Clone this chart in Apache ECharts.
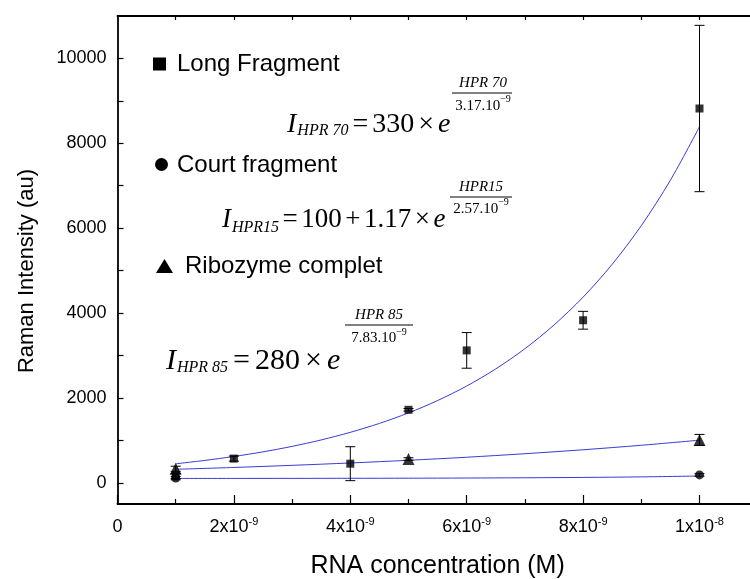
<!DOCTYPE html>
<html>
<head>
<meta charset="utf-8">
<script src="https://cdn.jsdelivr.net/npm/echarts@6/dist/echarts.min.js"></script>
<style>html,body{margin:0;padding:0;background:#fff}#c{width:750px;height:579px}</style>
</head>
<body>
<div id="c"></div>
<script>
// ---- data ----
const xLong = [1e-9, 2e-9, 4e-9, 5e-9, 6e-9, 8e-9, 1e-8];
const yLong = [160, 570, 450, 1720, 3120, 3830, 8820];
const errLong = [60, 60, 400, 30, 420, 210, 1960];

const xCourt = [1e-9, 1e-8];
const yCourt = [110, 185];
const errCourt = [40, 30];

const xRibo = [1e-9, 5e-9, 1e-8];
const yRibo = [330, 560, 1010];
const errRibo = [60, 30, 130];

// fitted curves as drawn in the picture
const fitXLong = [1e-9,1.5e-9,2e-9,2.5e-9,3e-9,3.5e-9,4e-9,4.5e-9,5e-9,5.5e-9,6e-9,6.5e-9,7e-9,7.5e-9,8e-9,8.5e-9,9e-9,9.5e-9,1e-8];
const fitLong = [447,527,620,729,858,1010,1189,1399,1646,1938,2280,2684,3159,3718,4375,5149,6060,7130,8390];
const fitXShort = [1e-9,2e-9,3e-9,4e-9,5e-9,6e-9,7e-9,8e-9,9e-9,1e-8];
const fitRibo = [318,361,411,467,530,602,685,778,884,1004];
const fitCourt = [102,103,104,106,108,112,118,126,139,160];

// axis ticks / labels
const xLabelValues = [0, 2e-9, 4e-9, 6e-9, 8e-9, 1e-8];
const xMinorValues = [1e-9, 3e-9, 5e-9, 7e-9, 9e-9];
const xTopValues = [1e-9,2e-9,3e-9,4e-9,5e-9,6e-9,7e-9,8e-9,9e-9,1e-8];
const yLabelValues = [0, 2000, 4000, 6000, 8000, 10000];
const yTickValues = [0,1000,2000,3000,4000,5000,6000,7000,8000,9000,10000];

const seriesNames = ['Long Fragment', 'Court fragment', 'Ribozyme complet'];

// equation texts
const eq1Main = ['I', 'HPR 70', '=', '330', '×', 'e'];
const eq1Exp = ['HPR 70', '3.17.10', '−9'];
const eq2Main = ['I', 'HPR15', '=', '100', '+', '1.17', '×', 'e'];
const eq2Exp = ['HPR15', '2.57.10', '−9'];
const eq3Main = ['I', 'HPR 85', '=', '280', '×', 'e'];
const eq3Exp = ['HPR 85', '7.83.10', '−9'];

// ---- build ----
const SANS = 'Liberation Sans, Arial, sans-serif';
const SERIF = 'Liberation Serif, Times New Roman, serif';
const BLUE = '#3a3ad8';

function pairs(xs, ys) { return xs.map((x, i) => [x, ys[i]]); }
function errData(xs, ys, es) { return xs.map((x, i) => [x, ys[i] - es[i], ys[i] + es[i]]); }

function errSeries(xs, ys, es) {
  return {
    type: 'custom', z: 3, silent: true,
    encode: { x: 0, y: [1, 2] },
    data: errData(xs, ys, es),
    renderItem: function (params, api) {
      const x = api.value(0), lo = api.value(1), hi = api.value(2);
      const a = api.coord([x, lo]), b = api.coord([x, hi]);
      const w = 5, st = { stroke: '#000', lineWidth: 1 };
      return { type: 'group', children: [
        { type: 'line', shape: { x1: a[0], y1: a[1], x2: b[0], y2: b[1] }, style: st },
        { type: 'line', shape: { x1: a[0] - w, y1: a[1], x2: a[0] + w, y2: a[1] }, style: st },
        { type: 'line', shape: { x1: b[0] - w, y1: b[1], x2: b[0] + w, y2: b[1] }, style: st }
      ]};
    }
  };
}

function xFmt(v) {
  const n = Math.round(v / 1e-9);
  if (n === 0) return '{b|0}';
  if (n === 10) return '{b|1x10}{s|-8}';
  if (n > 10) return '';
  return '{b|' + n + 'x10}{s|-9}';
}

function T(x, y, text, size, italic, opt) {
  opt = opt || {};
  return {
    type: 'text', x: x, y: y, z: 10, silent: true,
    style: {
      text: text, fontSize: size, fontFamily: opt.font || SERIF,
      fontStyle: italic ? 'italic' : 'normal', fill: '#000',
      align: opt.align || 'left', verticalAlign: 'middle'
    }
  };
}
function L(x1, x2, y) {
  return { type: 'line', z: 10, silent: true, shape: { x1: x1, y1: y, x2: x2, y2: y }, style: { stroke: '#000', lineWidth: 1 } };
}

const mctx = document.createElement('canvas').getContext('2d');
function measure(t, size, italic) {
  mctx.font = (italic ? 'italic ' : '') + size + 'px ' + SERIF;
  return mctx.measureText(t).width;
}
// lay out main line of an equation: I, subscript, then operators/numbers, then italic e
function eqMain(x0, yc, parts, F, S, subDy, gap) {
  const out = [];
  let x = x0;
  parts.forEach(function (t, i) {
    const isSub = i === 1;
    const italic = (i === 0 || i === parts.length - 1 || isSub);
    const size = isSub ? S : F;
    out.push(T(x, isSub ? yc + subDy : yc, t, size, italic));
    x += measure(t, size, italic) + (i === 0 ? 1 : gap);
  });
  return out;
}
function eqExp(cx, x1, x2, lineY, parts, size, numY, denY, supY) {
  const den = measure(parts[1], size, false);
  const sup = measure(parts[2], 10, false);
  const dx = cx - (den + sup) / 2;
  return [
    T(cx, numY, parts[0], size, true, { align: 'center' }),
    L(x1, x2, lineY),
    T(dx, denY, parts[1], size, false),
    T(dx + den, supY, parts[2], 10, false)
  ];
}

let graphics = [
  { type: 'text', x: 27, y: 271, rotation: Math.PI / 2, silent: true,
    style: { text: 'Raman Intensity (au)', fontSize: 22, fontFamily: SANS, fill: '#000', align: 'center', verticalAlign: 'middle' } },
  { type: 'rect', shape: { x: 153, y: 57.5, width: 13, height: 13 }, style: { fill: '#000' }, z: 10 },
  T(177, 64.5, seriesNames[0], 24, false, { font: SANS }),
  { type: 'circle', shape: { cx: 161.5, cy: 164.5, r: 6.5 }, style: { fill: '#000' }, z: 10 },
  T(177, 165, seriesNames[1], 24, false, { font: SANS }),
  { type: 'polygon', shape: { points: [[156, 273], [173, 273], [164.5, 259]] }, style: { fill: '#000' }, z: 10 },
  T(185, 266, seriesNames[2], 24, false, { font: SANS })
];
graphics = graphics
  .concat(eqMain(287, 124.5, eq1Main, 28, 16, 6, 4))
  .concat(eqExp(483, 452, 512, 93, eq1Exp, 15, 83.5, 106, 99.5))
  .concat(eqMain(222, 220, eq2Main, 27, 16, 8, 3.5))
  .concat(eqExp(481, 450, 512, 197, eq2Exp, 15, 187, 209, 202.5))
  .concat(eqMain(166, 361, eq3Main, 30, 16, 7, 5))
  .concat(eqExp(379, 345, 413, 325, eq3Exp, 15, 315, 338, 332.5));

const axisLineStyle = { color: '#000', width: 1.8 };
const tickStyle = { color: '#000', width: 1.2 };

const option = {
  animation: false,
  backgroundColor: '#fff',
  grid: { left: 117.5, right: -7.7, top: 16, bottom: 75, outerBoundsMode: 'none', containLabel: false },
  xAxis: [
    { type: 'value', min: 0, max: 1.1e-8, position: 'bottom',
      axisLine: { show: true, onZero: false, lineStyle: axisLineStyle },
      axisTick: { show: true, inside: true, length: 9, customValues: xLabelValues, lineStyle: tickStyle },
      splitLine: { show: false },
      axisLabel: { customValues: xLabelValues, margin: 12, formatter: xFmt, color: '#000',
        rich: {
          b: { fontSize: 18, fontFamily: SANS, color: '#000', lineHeight: 22 },
          s: { fontSize: 11, fontFamily: SANS, color: '#000', lineHeight: 12, verticalAlign: 'top' }
        } },
      name: 'RNA concentration (M)', nameLocation: 'middle', nameGap: 50,
      nameTextStyle: { fontSize: 25, fontFamily: SANS, color: '#000' } },
    { type: 'value', min: 0, max: 1.1e-8, position: 'top',
      axisLine: { show: true, onZero: false, lineStyle: axisLineStyle },
      axisTick: { show: true, inside: true, length: 4, customValues: xTopValues, lineStyle: tickStyle },
      axisLabel: { show: false }, splitLine: { show: false } },
    { type: 'value', min: 0, max: 1.1e-8, position: 'bottom',
      axisLine: { show: false, onZero: false },
      axisTick: { show: true, inside: true, length: 5, customValues: xMinorValues, lineStyle: tickStyle },
      axisLabel: { show: false }, splitLine: { show: false } }
  ],
  yAxis: [
    { type: 'value', min: -500, max: 11000, position: 'left',
      axisLine: { show: true, onZero: false, lineStyle: axisLineStyle },
      axisTick: { show: true, inside: true, length: 6, customValues: yTickValues, lineStyle: tickStyle },
      axisLabel: { customValues: yLabelValues, fontSize: 18, fontFamily: SANS, color: '#000', margin: 11,
        formatter: function (v) { return String(v); } },
      splitLine: { show: false } }
  ],
  graphic: graphics,
  series: [
    { type: 'line', name: 'fit HPR70', data: pairs(fitXLong, fitLong), smooth: 0.3, showSymbol: false, z: 2, silent: true,
      lineStyle: { color: BLUE, width: 1 } },
    { type: 'line', name: 'fit HPR15', data: pairs(fitXShort, fitCourt), smooth: 0.3, showSymbol: false, z: 2, silent: true,
      lineStyle: { color: BLUE, width: 1 } },
    { type: 'line', name: 'fit HPR85', data: pairs(fitXShort, fitRibo), smooth: 0.3, showSymbol: false, z: 2, silent: true,
      lineStyle: { color: BLUE, width: 1 } },
    errSeries(xLong, yLong, errLong),
    errSeries(xCourt, yCourt, errCourt),
    errSeries(xRibo, yRibo, errRibo),
    { type: 'scatter', name: seriesNames[0], data: pairs(xLong, yLong), symbol: 'rect', symbolSize: 8, z: 5,
      itemStyle: { color: '#000' } },
    { type: 'scatter', name: seriesNames[1], data: pairs(xCourt, yCourt), symbol: 'circle', symbolSize: 9, z: 5,
      itemStyle: { color: '#000' } },
    { type: 'scatter', name: seriesNames[2], data: pairs(xRibo, yRibo), symbol: 'triangle', symbolSize: 12, z: 5,
      itemStyle: { color: '#000' } }
  ]
};

const chart = echarts.init(document.getElementById('c'), null, { renderer: 'canvas' });
chart.setOption(option);
</script>
</body>
</html>
